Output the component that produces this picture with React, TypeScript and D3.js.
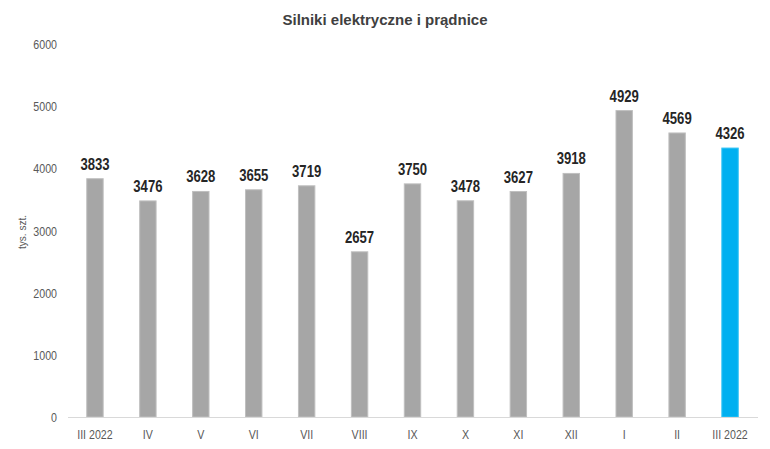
import { useEffect, useRef } from "react";
import * as d3 from "d3";

const svg_width = 770;
const svg_height = 449;

const categories = ["III 2022", "IV", "V", "VI", "VII", "VIII", "IX", "X", "XI", "XII", "I", "II", "III 2022 "];
const values = [3833, 3476, 3628, 3655, 3719, 2657, 3750, 3478, 3627, 3918, 4929, 4569, 4326];
const y_ticks = [0, 1000, 2000, 3000, 4000, 5000, 6000];

const title = "Silniki elektryczne i prądnice";
const y_title = "tys. szt.";

const font = "'Liberation Sans', Arial, sans-serif";
// no narrow font installed, so squeeze the text horizontally
const narrow = 0.82;

export default function App() {
    const ref = useRef<HTMLDivElement>(null);

    useEffect(() => {
        const svg = d3.select(ref.current)
            .append("svg")
                .attr("width", svg_width)
                .attr("height", svg_height)
                .style("display", "block")
                .style("background-color", "white")
                .style("font-family", font);

        svg.append("rect")
            .attr("x", 0.5).attr("y", 0.5)
            .attr("width", svg_width - 1).attr("height", svg_height - 1)
            .attr("fill", "white")
            .attr("stroke", "#d9d9d9");

        const x = d3.scaleBand()
            .domain(categories)
            .range([68.5, 756.5])
            .paddingInner(0.69)
            .paddingOuter(0.345);

        const y = d3.scaleLinear()
            .domain([0, 6000])
            .range([417, 44]);

        svg.append("text")
            .attr("x", 385)
            .attr("y", 25)
            .attr("text-anchor", "middle")
            .attr("font-size", 15)
            .attr("font-weight", "bold")
            .attr("fill", "#404040")
            .text(title);

        // y tick labels
        svg.append("g")
            .selectAll("text")
            .data(y_ticks)
            .enter()
            .append("text")
                .attr("transform", (d) => `translate(57, ${y(d) + 5}) scale(${narrow}, 1)`)
                .attr("text-anchor", "end")
                .attr("font-size", 13)
                .attr("fill", "#595959")
                .text((d) => d);

        svg.append("text")
            .attr("transform", `translate(26, 232) rotate(-90)`)
            .attr("text-anchor", "middle")
            .attr("font-size", 10)
            .attr("fill", "#595959")
            .text(y_title);

        const data = categories.map((c, i) => ({ c, v: values[i], i }));

        svg.append("g")
            .selectAll("rect")
            .data(data)
            .enter()
            .append("rect")
                .attr("x", (d) => x(d.c)!)
                .attr("y", (d) => y(d.v))
                .attr("width", x.bandwidth())
                .attr("height", (d) => y(0) - y(d.v))
                .attr("fill", (d) => d.i === data.length - 1 ? "#00b0f0" : "#a6a6a6")
                .attr("stroke", (d) => d.i === data.length - 1 ? "#33c4f5" : "#bfbfbf")
                .attr("stroke-width", 1);

        svg.append("line")
            .attr("x1", 68).attr("x2", 758)
            .attr("y1", 417.5).attr("y2", 417.5)
            .attr("stroke", "#d9d9d9");

        svg.append("g")
            .selectAll("text")
            .data(data)
            .enter()
            .append("text")
                .attr("transform", (d) => `translate(${x(d.c)! + x.bandwidth() / 2}, ${y(d.v) - 9}) scale(${narrow}, 1)`)
                .attr("text-anchor", "middle")
                .attr("font-size", 16)
                .attr("font-weight", "bold")
                .attr("fill", "#262626")
                .text((d) => d.v);

        svg.append("g")
            .selectAll("text")
            .data(data)
            .enter()
            .append("text")
                .attr("transform", (d) => `translate(${x(d.c)! + x.bandwidth() / 2}, 439) scale(${narrow}, 1)`)
                .attr("text-anchor", "middle")
                .attr("font-size", 13)
                .attr("fill", "#595959")
                .text((d) => d.c.trim());

        return () => {
            d3.select(ref.current).selectAll("*").remove();
        };
    }, [ref]);

    return (
        <div ref={ref} style={{ margin: -8 }} />
    );
}
